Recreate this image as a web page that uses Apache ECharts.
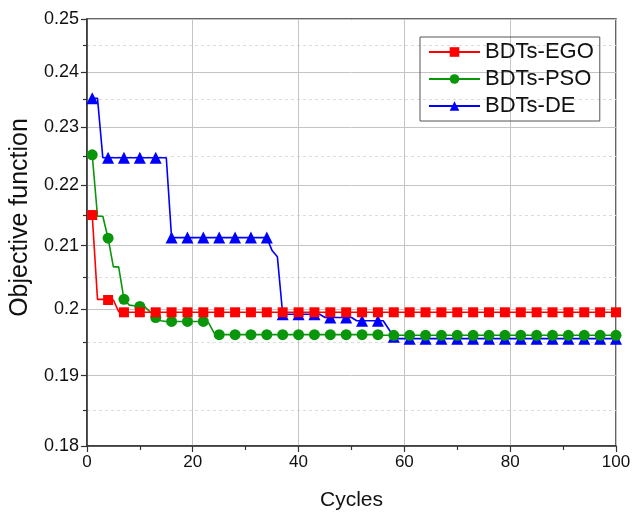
<!DOCTYPE html>
<html>
<head>
<meta charset="utf-8">
<script src="https://cdn.jsdelivr.net/npm/echarts@6/dist/echarts.min.js"></script>
<style>html,body{margin:0;padding:0;background:#fff}#c{width:634px;height:516px}</style>
</head>
<body>
<div id="c"></div>
<script>
// cycles 1..100
const cycles = Array.from({length: 100}, (_, i) => i + 1);
const seriesNames = ['BDTs-EGO', 'BDTs-PSO', 'BDTs-DE'];
const yTicks = [0.18, 0.19, 0.2, 0.21, 0.22, 0.23, 0.24, 0.25];
const yMinorTicks = [0.185, 0.195, 0.205, 0.215, 0.225, 0.235, 0.245];
const xTicks = [0, 20, 40, 60, 80, 100];

const egoValues = [
  0.2150, 0.2015, 0.2015, 0.2014, 0.2014, 0.1996, 0.1995, 0.1995, 0.1995, 0.1995,
  0.1995, 0.1995, 0.1995, 0.1995, 0.1995, 0.1995, 0.1995, 0.1995, 0.1995, 0.1995,
  0.1995, 0.1995, 0.1995, 0.1995, 0.1995, 0.1995, 0.1995, 0.1995, 0.1995, 0.1995,
  0.1995, 0.1995, 0.1995, 0.1995, 0.1995, 0.1995, 0.1995, 0.1995, 0.1995, 0.1995,
  0.1995, 0.1995, 0.1995, 0.1995, 0.1995, 0.1995, 0.1995, 0.1995, 0.1995, 0.1995,
  0.1995, 0.1995, 0.1995, 0.1995, 0.1995, 0.1995, 0.1995, 0.1995, 0.1995, 0.1995,
  0.1995, 0.1995, 0.1995, 0.1995, 0.1995, 0.1995, 0.1995, 0.1995, 0.1995, 0.1995,
  0.1995, 0.1995, 0.1995, 0.1995, 0.1995, 0.1995, 0.1995, 0.1995, 0.1995, 0.1995,
  0.1995, 0.1995, 0.1995, 0.1995, 0.1995, 0.1995, 0.1995, 0.1995, 0.1995, 0.1995,
  0.1995, 0.1995, 0.1995, 0.1995, 0.1995, 0.1995, 0.1995, 0.1995, 0.1995, 0.1995
];
const psoValues = [
  0.2252, 0.2148, 0.2148, 0.2112, 0.2066, 0.2066, 0.2015, 0.2006, 0.2005, 0.2004,
  0.2003, 0.1995, 0.1987, 0.1982, 0.1981, 0.1981, 0.1981, 0.1981, 0.1981, 0.1981,
  0.1981, 0.1981, 0.1979, 0.1964, 0.1961, 0.1961, 0.1961, 0.1961, 0.1961, 0.1961,
  0.1961, 0.1961, 0.1961, 0.1961, 0.1961, 0.1961, 0.1961, 0.1961, 0.1961, 0.1961,
  0.1961, 0.1961, 0.1961, 0.1961, 0.1961, 0.1961, 0.1961, 0.1961, 0.1961, 0.1961,
  0.1961, 0.1961, 0.1961, 0.1961, 0.1961, 0.1960, 0.1960, 0.1960, 0.1960, 0.1960,
  0.1960, 0.1960, 0.1960, 0.1960, 0.1960, 0.1960, 0.1960, 0.1960, 0.1960, 0.1960,
  0.1960, 0.1960, 0.1960, 0.1960, 0.1960, 0.1960, 0.1960, 0.1960, 0.1960, 0.1960,
  0.1960, 0.1960, 0.1960, 0.1960, 0.1960, 0.1960, 0.1960, 0.1960, 0.1960, 0.1960,
  0.1960, 0.1960, 0.1960, 0.1960, 0.1960, 0.1960, 0.1960, 0.1960, 0.1960, 0.1960
];
const deValues = [
  0.2352, 0.2352, 0.2247, 0.2247, 0.2247, 0.2247, 0.2247, 0.2247, 0.2247, 0.2247,
  0.2247, 0.2247, 0.2247, 0.2247, 0.2247, 0.2113, 0.2113, 0.2113, 0.2113, 0.2113,
  0.2113, 0.2113, 0.2113, 0.2113, 0.2113, 0.2113, 0.2113, 0.2113, 0.2113, 0.2113,
  0.2113, 0.2113, 0.2113, 0.2113, 0.2092, 0.2082, 0.1992, 0.1992, 0.1992, 0.1992,
  0.1992, 0.1992, 0.1992, 0.1992, 0.1987, 0.1987, 0.1987, 0.1987, 0.1987, 0.1987,
  0.1982, 0.1982, 0.1982, 0.1982, 0.1982, 0.1982, 0.1970, 0.1958, 0.1955, 0.1955,
  0.1955, 0.1955, 0.1955, 0.1955, 0.1955, 0.1955, 0.1955, 0.1955, 0.1955, 0.1955,
  0.1955, 0.1955, 0.1955, 0.1955, 0.1955, 0.1955, 0.1955, 0.1955, 0.1955, 0.1955,
  0.1955, 0.1955, 0.1955, 0.1955, 0.1955, 0.1955, 0.1955, 0.1955, 0.1955, 0.1955,
  0.1955, 0.1955, 0.1955, 0.1955, 0.1955, 0.1955, 0.1955, 0.1955, 0.1955, 0.1955
];

const FONT = 'Liberation Sans, Arial, sans-serif';
function build(vals) {
  return vals.map((v, i) => {
    const item = {value: [cycles[i], v]};
    if (i % 3 !== 0) item.symbol = 'none';
    return item;
  });
}
const colors = ['#ff0000', '#0a960a', '#0000ff'];
const symbols = ['rect', 'circle', 'triangle'];
const sizes = [10, 11, 12];
const allValues = [egoValues, psoValues, deValues];

const chart = echarts.init(document.getElementById('c'), null, {renderer: 'canvas'});
chart.setOption({
  animation: false,
  backgroundColor: '#fff',
  grid: {left: 82, right: 18, top: 19, bottom: 66, show: true, borderColor: '#333', borderWidth: 1.5, backgroundColor: 'transparent'},
  legend: {
    orient: 'vertical', left: 420, top: 37,
    data: seriesNames,
    borderColor: '#555', borderWidth: 1,
    padding: [4, 6, 4, 8],
    itemWidth: 51, itemHeight: 12, itemGap: 5,
    textStyle: {fontFamily: FONT, fontSize: 22, color: '#111'}
  },
  xAxis: {
    type: 'value', min: xTicks[0], max: xTicks[xTicks.length - 1], interval: 20,
    name: 'Cycles', nameLocation: 'middle', nameGap: 44,
    nameTextStyle: {fontFamily: FONT, fontSize: 21, color: '#111'},
    axisLine: {show: true, onZero: false, lineStyle: {color: '#333', width: 1.5}},
    axisTick: {show: true, inside: false, length: 6, lineStyle: {color: '#333', width: 1.2}},
    minorTick: {show: true, splitNumber: 2, length: 4, lineStyle: {color: '#333', width: 1.2}},
    axisLabel: {fontFamily: FONT, fontSize: 17, color: '#111', margin: 8},
    splitLine: {show: true, lineStyle: {color: '#c4c4c4', width: 1}}
  },
  yAxis: [{
    type: 'log', logBase: 10, min: yTicks[0], max: yTicks[yTicks.length - 1],
    name: 'Objective function', nameLocation: 'middle', nameGap: 47,
    nameTextStyle: {fontFamily: FONT, fontSize: 25, color: '#111', padding: [0, 0, 0, 30]},
    axisLine: {show: true, lineStyle: {color: '#333', width: 1.5}},
    axisTick: {show: true, inside: false, length: 6, customValues: yTicks, lineStyle: {color: '#333', width: 1.2}},
    axisLabel: {fontFamily: FONT, fontSize: 18, color: '#111', margin: 8, customValues: yTicks,
      formatter: v => String(parseFloat(Number(v).toFixed(3)))},
    splitLine: {show: true, lineStyle: {color: '#c4c4c4', width: 1}}
  }, {
    type: 'log', logBase: 10, min: yTicks[0], max: yTicks[yTicks.length - 1],
    position: 'left',
    axisLine: {show: false},
    axisTick: {show: true, inside: false, length: 4, customValues: yMinorTicks, lineStyle: {color: '#333', width: 1.2}},
    axisLabel: {show: false, customValues: yMinorTicks},
    splitLine: {show: true, lineStyle: {color: '#dcdcdc', width: 1, type: [3, 3]}}
  }],
  series: seriesNames.map((name, k) => ({
    name, type: 'line',
    yAxisIndex: 0,
    data: build(allValues[k]),
    symbol: symbols[k], symbolSize: sizes[k],
    showAllSymbol: true,
    lineStyle: {color: colors[k], width: 1.6},
    itemStyle: {color: colors[k]},
    z: 10 - k
  }))
});
</script>
</body>
</html>
